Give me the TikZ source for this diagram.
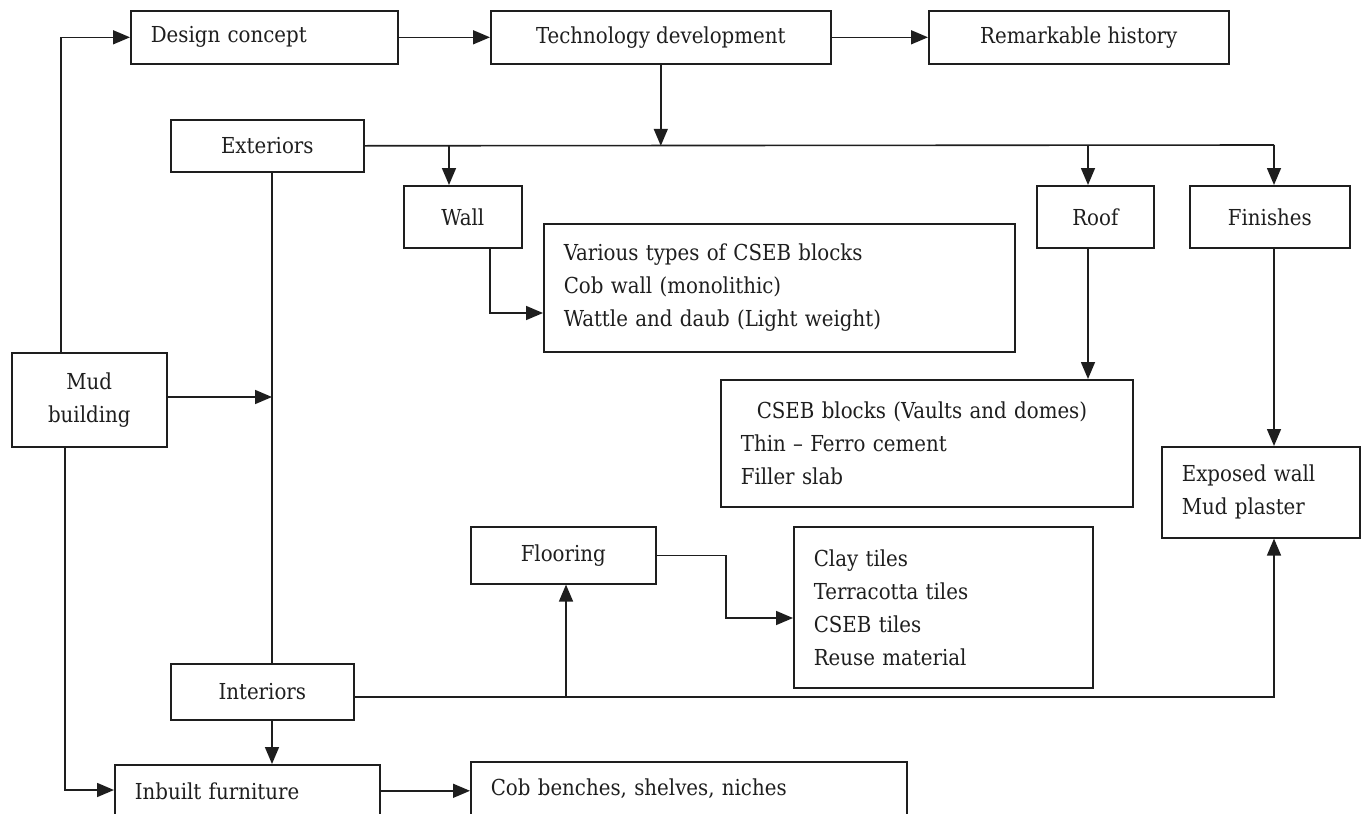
\documentclass[tikz,border=0pt]{standalone}
\usepackage{fontspec}
\setmainfont{DejaVu Serif Condensed}
\usepackage{xcolor}
\definecolor{inkgray}{HTML}{1E1E1E}
\usetikzlibrary{positioning,arrows.meta,calc}
\tikzset{
  cbox/.style ={rectangle, draw=inkgray, line width=1.6pt, anchor=north west, inner sep=0pt,
                align=center, text=inkgray, font=\fontsize{22}{33}\selectfont},
  lbox/.style ={cbox, align=left, inner xsep=20pt},
  arr/.style  ={-{Triangle[length=17pt,width=14pt]}, line width=1.6pt, draw=inkgray},
  ln/.style   ={line width=1.6pt, draw=inkgray},
}

\begin{document}
\begin{tikzpicture}[x=1pt,y=-1pt]
  \clip (0,0) rectangle (1361,814);
  % boxes
  \node[lbox, text width=227pt, minimum height=53pt] (dsg) at (130,10) {Design concept};
  \node[cbox, minimum width=340pt, minimum height=53pt] (tech) at (490,10) {Technology development};
  \node[cbox, minimum width=300pt, minimum height=53pt] (hist) at (928,10) {Remarkable history};
  \node[cbox, minimum width=193pt, minimum height=52pt] (ext) at (170,119) {Exteriors};
  \node[cbox, minimum width=118pt, minimum height=62pt] (wall) at (403,185) {Wall};
  \node[cbox, minimum width=117pt, minimum height=62pt] (roof) at (1036,185) {Roof};
  \node[cbox, minimum width=160pt, minimum height=62pt] (fin) at (1189,185) {Finishes};
  \node[lbox, text width=431pt, minimum height=128pt] (var) at (543,223) {Various types of CSEB blocks\\Cob wall (monolithic)\\Wattle and daub (Light weight)};
  \node[cbox, minimum width=155pt, minimum height=94pt] (mud) at (11,352) {Mud\\building};
  \node[lbox, text width=372pt, minimum height=127pt] (cseb) at (720,379) {\hspace*{16pt}CSEB blocks (Vaults and domes)\\Thin – Ferro cement\\Filler slab};
  \node[lbox, text width=158pt, minimum height=91pt] (expo) at (1161,446) {Exposed wall\\Mud plaster};
  \node[cbox, minimum width=185pt, minimum height=57pt] (flr) at (470,526) {Flooring};
  \node[lbox, text width=259pt, minimum height=161pt] (clay) at (793,526) {Clay tiles\\Terracotta tiles\\CSEB tiles\\Reuse material};
  \node[cbox, minimum width=183pt, minimum height=56pt] (int) at (170,663) {Interiors};
  \node[lbox, text width=225pt, minimum height=52pt] (furn) at (114,764) {Inbuilt furniture};
  \node[lbox, text width=396pt, minimum height=54pt] (cob) at (470,761) {Cob benches, shelves, niches};
  % junctions
  \coordinate (jwall) at (449,145);
  \coordinate (jroof) at (1088,145);
  \coordinate (jfin) at (1274,145);
  \coordinate (jwvar) at (490,313);
  \coordinate (spine) at (272,397);
  \coordinate (mudup) at (61,352);
  \coordinate (jfurn) at (65,790);
  \coordinate (jint) at (1274,697);
  \coordinate (jflr) at (566,697);
  \coordinate (jclay) at (726,618);
  % top row
  \draw[arr] (mudup) |- (dsg.west);
  \draw[arr] (dsg) -- (tech);
  \draw[arr] (tech) -- (hist);
  \draw[arr] (tech.south) -- (tech.south |- ext.east);
  \draw[ln] (ext.east) -- (jfin);
  \draw[arr] (jwall) -- (jwall |- wall.north);
  \draw[arr] (jroof) -- (jroof |- roof.north);
  \draw[arr] (jfin) -- (jfin |- fin.north);
  % branches
  \draw[arr] (jwvar |- wall.south) |- (jwvar -| var.west);
  \draw[arr] (jroof |- roof.south) -- (jroof |- cseb.north);
  \draw[arr] (jfin |- fin.south) -- (jfin |- expo.north);
  % exteriors / interiors
  \draw[ln] (spine |- ext.south) -- (spine |- int.north);
  \draw[arr] (mud.east |- spine) -- (spine);
  \draw[arr] (spine |- int.south) -- (spine |- furn.north);
  \draw[arr] (jfurn |- mud.south) |- (jfurn -| furn.west);
  \draw[arr] (int.east |- jint) -| (jint |- expo.south);
  \draw[arr] (jflr) -- (jflr |- flr.south);
  \draw[arr] (flr.east) -| (jclay) -- (jclay -| clay.west);
  \draw[arr] (furn.east) -- (furn.east -| cob.west);
\end{tikzpicture}
\end{document}
